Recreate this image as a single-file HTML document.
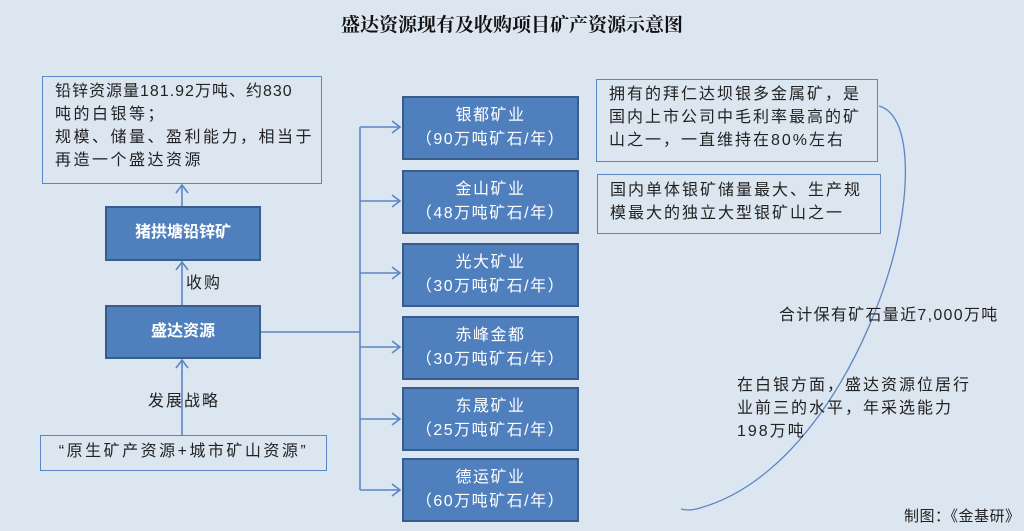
<!DOCTYPE html>
<html><head><meta charset="utf-8"><style>
body{margin:0;width:1024px;height:531px;background:#dce6f1;position:relative;overflow:hidden;font-family:"Liberation Sans","Noto Sans CJK SC",sans-serif;}
.a{position:absolute;white-space:nowrap;}
.t{font-size:16px;color:#222;line-height:23px;letter-spacing:2px;}
.ob{border:1.5px solid #5b86c4;box-sizing:border-box;}
.bb{background:#4f7fbd;border:2px solid #385d8a;box-sizing:border-box;color:#fff;text-align:center;}
.m{left:402px;width:177px;height:64px;font-size:16px;line-height:24px;padding-top:6px;letter-spacing:1.5px;}
</style></head><body>
<div class="a" style="left:0;top:10px;width:1024px;text-align:center;font-size:19px;font-weight:bold;color:#111;font-family:'Liberation Serif','Noto Serif CJK SC',serif;">盛达资源现有及收购项目矿产资源示意图</div>
<svg class="a" style="left:0;top:0" width="1024" height="531">
<g stroke="#5b86c4" stroke-width="1.6" fill="none">
<line x1="182" y1="206" x2="182" y2="185"/><polyline points="176,193 182,185 188,193"/>
<line x1="182" y1="305" x2="182" y2="262"/><polyline points="176,270 182,262 188,270"/>
<line x1="182" y1="435" x2="182" y2="360"/><polyline points="176,368 182,360 188,368"/>
<line x1="261" y1="332" x2="360" y2="332"/>
<line x1="360" y1="127" x2="360" y2="490"/>
<line x1="360" y1="127" x2="400" y2="127"/><polyline points="392,121 400,127 392,133"/>
<line x1="360" y1="201" x2="400" y2="201"/><polyline points="392,195 400,201 392,207"/>
<line x1="360" y1="273" x2="400" y2="273"/><polyline points="392,267 400,273 392,279"/>
<line x1="360" y1="347" x2="400" y2="347"/><polyline points="392,341 400,347 392,353"/>
<line x1="360" y1="419" x2="400" y2="419"/><polyline points="392,413 400,419 392,425"/>
<line x1="360" y1="490" x2="400" y2="490"/><polyline points="392,484 400,490 392,496"/>
<path d="M879,106 C912,115 910,190 895,250 C870,350 800,480 700,508 C690,511 685,510 681,509" stroke-width="1.3"/>
</g></svg>
<div class="a ob t" style="left:42px;top:76px;width:280px;height:108px;padding:3px 0 0 12px;letter-spacing:2.5px;"><span style="letter-spacing:1px">铅锌资源量181.92万吨、约830</span><br>吨的白银等；<br>规模、储量、盈利能力，相当于<br>再造一个盛达资源</div>
<div class="a bb" style="left:105px;top:206px;width:156px;height:55px;line-height:50px;font-weight:bold;font-size:16px;">猪拱塘铅锌矿</div>
<div class="a t" style="left:186px;top:272px;">收购</div>
<div class="a bb" style="left:105px;top:305px;width:156px;height:54px;line-height:50px;font-weight:bold;font-size:16px;">盛达资源</div>
<div class="a t" style="left:148px;top:390px;">发展战略</div>
<div class="a ob t" style="left:40px;top:435px;width:287px;height:36px;text-align:center;line-height:32px;letter-spacing:2.5px;">“原生矿产资源+城市矿山资源”</div>
<div class="a bb m" style="top:96px;">银都矿业<br>（90万吨矿石/年）</div>
<div class="a bb m" style="top:170px;">金山矿业<br>（48万吨矿石/年）</div>
<div class="a bb m" style="top:243px;">光大矿业<br>（30万吨矿石/年）</div>
<div class="a bb m" style="top:316px;">赤峰金都<br>（30万吨矿石/年）</div>
<div class="a bb m" style="top:387px;">东晟矿业<br>（25万吨矿石/年）</div>
<div class="a bb m" style="top:458px;">德运矿业<br>（60万吨矿石/年）</div>
<div class="a ob t" style="left:596px;top:79px;width:282px;height:83px;padding:3px 0 0 12px;">拥有的拜仁达坝银多金属矿，是<br>国内上市公司中毛利率最高的矿<br>山之一，一直维持在80%左右</div>
<div class="a ob t" style="left:597px;top:174px;width:284px;height:60px;padding:4px 0 0 12px;">国内单体银矿储量最大、生产规<br>模最大的独立大型银矿山之一</div>
<div class="a t" style="left:779px;top:304px;letter-spacing:1.3px;">合计保有矿石量近7,000万吨</div>
<div class="a t" style="left:737px;top:374px;">在白银方面，盛达资源位居行<br>业前三的水平，年采选能力<br>198万吨</div>
<div class="a t" style="left:904px;top:505px;font-size:15px;letter-spacing:0.5px;">制图：《金基研》</div>
</body></html>
